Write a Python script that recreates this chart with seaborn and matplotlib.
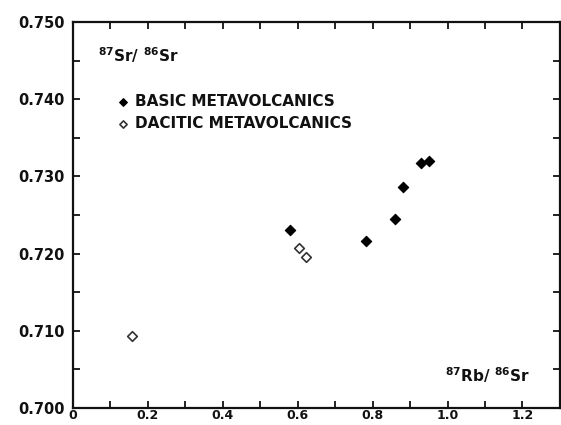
import matplotlib
matplotlib.use("Agg")
import matplotlib.pyplot as plt
import seaborn as sns
import pandas as pd
from matplotlib.ticker import MultipleLocator, FixedLocator

# Data
basic_rb = [0.579, 0.782, 0.860, 0.880, 0.928, 0.951]
basic_sr = [0.7230, 0.7216, 0.7245, 0.7286, 0.7318, 0.7320]
dacitic_rb = [0.159, 0.603, 0.622]
dacitic_sr = [0.7093, 0.7207, 0.7195]
x_ticks = [0, 0.2, 0.4, 0.6, 0.8, 1.0, 1.2]
x_tick_labels = ["0", "0.2", "0.4", "0.6", "0.8", "1.0", "1.2"]
y_ticks = [0.700, 0.710, 0.720, 0.730, 0.740, 0.750]
y_tick_labels = ["0.700", "0.710", "0.720", "0.730", "0.740", "0.750"]

basic = pd.DataFrame({"rb": basic_rb, "sr": basic_sr})
dacitic = pd.DataFrame({"rb": dacitic_rb, "sr": dacitic_sr})

sns.set_theme(style="ticks")
plt.rcParams["font.family"] = ["DejaVu Sans"]
plt.rcParams["mathtext.default"] = "bf"

fig = plt.figure(figsize=(5.61, 4.25), dpi=100)
ax = fig.add_axes([0.130, 0.0400, 0.868, 0.9082])

sns.scatterplot(data=basic, x="rb", y="sr", marker="D", s=28, color="black",
                edgecolor="black", linewidth=0.8, label="BASIC METAVOLCANICS", ax=ax)
sns.scatterplot(data=dacitic, x="rb", y="sr", marker="D", s=24, facecolor="white",
                edgecolor="#333333", linewidth=1.2, label="DACITIC METAVOLCANICS", ax=ax)

ax.set_xlim(0, 1.3)
ax.set_ylim(0.700, 0.750)
ax.xaxis.set_major_locator(FixedLocator(x_ticks))
ax.set_xticklabels(x_tick_labels)
ax.xaxis.set_minor_locator(MultipleLocator(0.1))
ax.yaxis.set_major_locator(FixedLocator(y_ticks))
ax.set_yticklabels(y_tick_labels)
ax.yaxis.set_minor_locator(MultipleLocator(0.005))

ax.tick_params(which="both", direction="in", length=5, width=1.3, color="#111111",
               top=True, right=True, labelsize=10.5)
ax.tick_params(axis="y", pad=6)
ax.tick_params(axis="x", pad=1, labelsize=9)
for lab in ax.get_xticklabels() + ax.get_yticklabels():
    lab.set_fontweight("bold")
    lab.set_color("#111111")
for sp in ax.spines.values():
    sp.set_linewidth(1.6)
    sp.set_color("#111111")

ax.set_xlabel("")
ax.set_ylabel("")
ax.text(0.052, 0.915, r"$^{87}$Sr/ $^{86}$Sr", transform=ax.transAxes,
        fontsize=11, fontweight="bold", va="center", ha="left", color="#111111")
ax.text(0.764, 0.085, r"$^{87}$Rb/ $^{86}$Sr", transform=ax.transAxes,
        fontsize=11, fontweight="bold", va="center", ha="left", color="#111111")

leg = ax.legend(loc="upper left", bbox_to_anchor=(0.055, 0.848), frameon=False,
                prop={"weight": "bold", "size": 11}, handletextpad=0.2,
                labelspacing=0.45, markerscale=0.75, handlelength=1.2)
for t in leg.get_texts():
    t.set_color("#111111")

fig.savefig("out.png", dpi=100)
